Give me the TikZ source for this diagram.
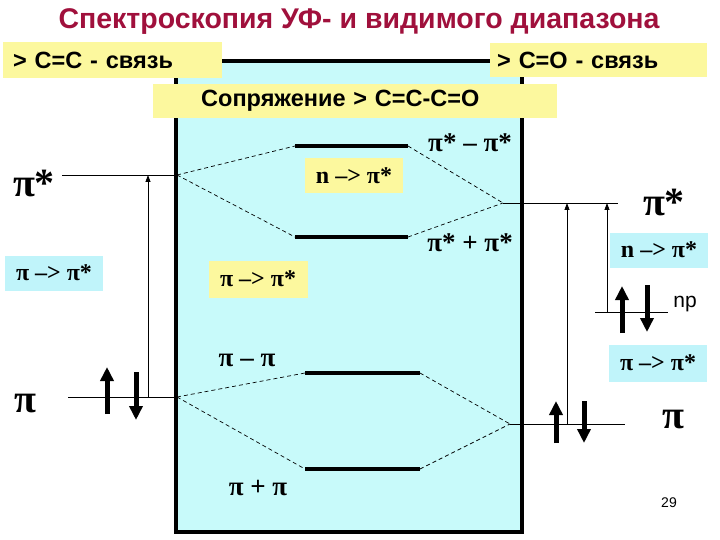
\documentclass[tikz,border=0pt]{standalone}
\usepackage{fontspec}
\setmainfont{Liberation Serif}
\setsansfont{Liberation Sans}
\usetikzlibrary{arrows.meta}
\definecolor{titlered}{RGB}{160,16,60}
\definecolor{ybg}{RGB}{252,248,158}
\definecolor{cbg}{RGB}{200,250,250}
\definecolor{clab}{RGB}{192,244,250}
\begin{document}
\begin{tikzpicture}[x=1pt,y=-1pt,
  ybox/.style={fill=ybg, draw=none, inner sep=0pt},
  cbox/.style={fill=clab, draw=none, inner sep=0pt},
  lvl/.style={line width=0.8pt},
  mo/.style={line width=4pt},
  dsh/.style={line width=0.7pt, dash pattern=on 4pt off 3pt},
  tr/.style={line width=0.8pt, -{Triangle[length=7pt,width=5pt]}},
  el/.style={line width=5pt, -{Triangle[length=14pt,width=13pt]}},
  big/.style={font=\bfseries\fontsize{40}{40}\selectfont, inner sep=0pt},
  mid/.style={font=\bfseries\fontsize{27}{27}\selectfont, inner sep=0pt},
  lab/.style={font=\bfseries\fontsize{24}{24}\selectfont},
  head/.style={font=\sffamily\bfseries\fontsize{23.5}{24}\selectfont},
]
\useasboundingbox (0,0) rectangle (720,540);
\fill[white] (0,0) rectangle (720,540);

% title
\node[font=\sffamily\bfseries\fontsize{28.5}{30}\selectfont, text=titlered] (title) at (359,22) {Спектроскопия УФ- и видимого диапазона};

% frame
\draw[line width=4pt, fill=cbg] (176,61) rectangle (522,532);

% header boxes
\node[ybox, head, anchor=north west, minimum height=36pt, text width=199pt, inner xsep=10pt, align=left] (cc) at (3,42) {> C=C - связь};
\node[ybox, head, anchor=north west, minimum height=34pt, text width=203pt, inner xsep=7pt, align=left] (co) at (490,43) {> C=O - связь};
\node[ybox, head, anchor=north west, minimum height=34pt, text width=308pt, inner xsep=48pt, align=left] (conj) at (153,84) {Сопряжение > C=C-C=O};

% coordinates of levels
\coordinate (Lps1) at (62,175);  \coordinate (Lps2) at (177,175);
\coordinate (Lp1) at (68,397);   \coordinate (Lp2) at (177,397);
\coordinate (Rps1) at (503,203); \coordinate (Rps2) at (618,203);
\coordinate (Rp1) at (510,424);  \coordinate (Rp2) at (625,424);
\coordinate (Rn1) at (595,312);  \coordinate (Rn2) at (668,312);
\coordinate (Ma1) at (295,146);  \coordinate (Ma2) at (408,146);
\coordinate (Mb1) at (295,237);  \coordinate (Mb2) at (408,237);
\coordinate (Mc1) at (305,373);  \coordinate (Mc2) at (420,373);
\coordinate (Md1) at (305,469);  \coordinate (Md2) at (420,469);

% left levels
\draw[lvl] (Lps1) -- (Lps2);
\draw[lvl] (Lp1) -- (Lp2);
\node[big] (Lpslab) at (34,184) {π*};
\node[big] (Lplab) at (25,404) {π};
% right levels
\draw[lvl] (Rps1) -- (Rps2);
\draw[lvl] (Rp1) -- (Rp2);
\draw[lvl] (Rn1) -- (Rn2);
\node[big] (Rpslab) at (664,203) {π*};
\node[big] (Rplab) at (673,420) {π};
\node[font=\sffamily\fontsize{21}{21}\selectfont, inner sep=0pt] (nplab) at (685,304) {np};

% molecular orbital levels
\draw[mo] (Ma1) -- (Ma2);
\draw[mo] (Mb1) -- (Mb2);
\draw[mo] (Mc1) -- (Mc2);
\draw[mo] (Md1) -- (Md2);

% correlation lines
\draw[dsh] (Lps2) -- (Ma1);
\draw[dsh] (Lps2) -- (Mb1);
\draw[dsh] (Ma2) -- (Rps1);
\draw[dsh] (Mb2) -- (Rps1);
\draw[dsh] (Lp2) -- (Mc1);
\draw[dsh] (Lp2) -- (Md1);
\draw[dsh] (Mc2) -- (Rp1);
\draw[dsh] (Md2) -- (Rp1);

% MO labels
\node[mid] (la) at (470,143) {π* – π*};
\node[mid] (lb) at (470,243) {π* + π*};
\node[mid] (lc) at (247,360) {π – π};
\node[mid] (ld) at (258,488) {π + π};

% transition label boxes
\node[ybox, lab, minimum width=98pt, minimum height=35pt] (ynpi) at (354,176) {n –> π*};
\node[ybox, lab, minimum width=99pt, minimum height=37pt] (ypipi) at (258,279) {π –> π*};
\node[cbox, lab, minimum width=98pt, minimum height=35pt] (cpil) at (54,273) {π –> π*};
\node[cbox, lab, minimum width=98pt, minimum height=35pt] (cnr) at (659,250) {n –> π*};
\node[cbox, lab, minimum width=98pt, minimum height=37pt] (cpir) at (658,363) {π –> π*};

% transitions
\coordinate (T1a) at (148,397); \coordinate (T1b) at (148,175);
\coordinate (T2a) at (567,424); \coordinate (T2b) at (567,203);
\coordinate (T3a) at (607,312); \coordinate (T3b) at (607,203);
\draw[tr] (T1a) -- (T1b);
\draw[tr] (T2a) -- (T2b);
\draw[tr] (T3a) -- (T3b);

% electrons
\coordinate (e1a) at (107,414); \coordinate (e1b) at (107,367);
\coordinate (e2a) at (136,372); \coordinate (e2b) at (136,420);
\coordinate (e3a) at (556,443); \coordinate (e3b) at (556,401);
\coordinate (e4a) at (584,401); \coordinate (e4b) at (584,443);
\coordinate (e5a) at (622,333); \coordinate (e5b) at (622,286);
\coordinate (e6a) at (647,285); \coordinate (e6b) at (647,332);
\draw[el] (e1a) -- (e1b);
\draw[el] (e2a) -- (e2b);
\draw[el] (e3a) -- (e3b);
\draw[el] (e4a) -- (e4b);
\draw[el] (e5a) -- (e5b);
\draw[el] (e6a) -- (e6b);

% page number
\node[font=\sffamily\fontsize{14}{14}\selectfont] (pg) at (669,503) {29};
\end{tikzpicture}
\end{document}
